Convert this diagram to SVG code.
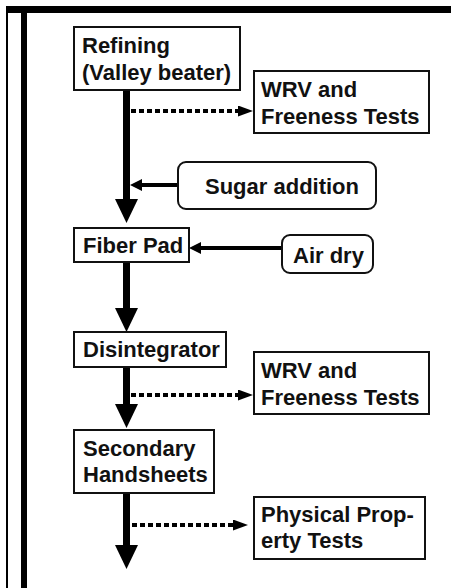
<svg xmlns="http://www.w3.org/2000/svg" width="451" height="588" viewBox="0 0 451 588">
<defs>
<style>
.box{fill:#fff;stroke:#111;stroke-width:2}
.t{font-family:"Liberation Sans",Arial,sans-serif;font-weight:bold;font-size:22px;fill:#111}
.main{stroke:#000;stroke-width:7;fill:none}
.dot{stroke:#000;stroke-width:4;stroke-dasharray:5 3;fill:none}
.solid{stroke:#000;stroke-width:4;fill:none}
</style>
<marker id="bighead" markerUnits="userSpaceOnUse" viewBox="0 0 24 23" refX="0" refY="11.5" markerWidth="24" markerHeight="23" orient="auto"><path d="M0,0 L24,11.5 L0,23 Z" fill="#000"/></marker>
<marker id="smallhead" markerUnits="userSpaceOnUse" viewBox="0 0 15 11" refX="0" refY="5.5" markerWidth="15" markerHeight="11" orient="auto"><path d="M0,0 L15,5.5 L0,11 Z" fill="#000"/></marker>
<marker id="solidhead" markerUnits="userSpaceOnUse" viewBox="0 0 12 12" refX="0" refY="6" markerWidth="12" markerHeight="12" orient="auto"><path d="M0,0 L12,6 L0,12 Z" fill="#000"/></marker>
</defs>
<rect width="451" height="588" fill="#fff"/>
<g id="frame">
<rect x="6" y="6" width="2" height="582" fill="#000"/>
<rect x="6" y="6" width="445" height="7" fill="#000"/>
<rect x="21" y="13" width="6" height="575" fill="#000"/>
</g>
<g id="connectors">
<line class="main" x1="126.5" y1="90" x2="126.5" y2="199" marker-end="url(#bighead)"/>
<line class="main" x1="126.5" y1="262" x2="126.5" y2="308" marker-end="url(#bighead)"/>
<line class="main" x1="126.5" y1="367" x2="126.5" y2="404" marker-end="url(#bighead)"/>
<line class="main" x1="126.5" y1="493" x2="126.5" y2="545" marker-end="url(#bighead)"/>
<line class="dot" x1="131" y1="111" x2="238" y2="111" marker-end="url(#smallhead)"/>
<line class="dot" x1="131" y1="395" x2="238" y2="395" marker-end="url(#smallhead)"/>
<line class="dot" x1="132" y1="525" x2="233" y2="525" marker-end="url(#smallhead)"/>
<line class="solid" x1="178" y1="185" x2="142" y2="185" marker-end="url(#solidhead)"/>
<line class="solid" x1="282" y1="248" x2="201" y2="248" marker-end="url(#solidhead)"/>
</g>
<g id="refining">
<rect class="box" x="74" y="27" width="166" height="63"/>
<text class="t" x="82" y="53">Refining</text>
<text class="t" x="82" y="80">(Valley beater)</text>
</g>
<g id="wrv1">
<rect class="box" x="254" y="71" width="175" height="62"/>
<text class="t" x="261" y="97">WRV and</text>
<text class="t" x="261" y="124">Freeness Tests</text>
</g>
<g id="sugar">
<rect class="box" x="178" y="162" width="198" height="47" rx="8"/>
<text class="t" x="205" y="194">Sugar addition</text>
</g>
<g id="fiberpad">
<rect class="box" x="74" y="228" width="115" height="34"/>
<text class="t" x="83" y="253">Fiber Pad</text>
</g>
<g id="airdry">
<rect class="box" x="282" y="235" width="91" height="38" rx="8"/>
<text class="t" x="293" y="263">Air dry</text>
</g>
<g id="disintegrator">
<rect class="box" x="74" y="332" width="152" height="35"/>
<text class="t" x="83" y="357">Disintegrator</text>
</g>
<g id="wrv2">
<rect class="box" x="254" y="352" width="175" height="62"/>
<text class="t" x="261" y="378">WRV and</text>
<text class="t" x="261" y="405">Freeness Tests</text>
</g>
<g id="secondary">
<rect class="box" x="74" y="430" width="140" height="63"/>
<text class="t" x="83" y="456">Secondary</text>
<text class="t" x="83" y="482">Handsheets</text>
</g>
<g id="physical">
<rect class="box" x="254" y="497" width="171" height="62"/>
<text class="t" x="261" y="522">Physical Prop-</text>
<text class="t" x="261" y="548">erty Tests</text>
</g>
</svg>
